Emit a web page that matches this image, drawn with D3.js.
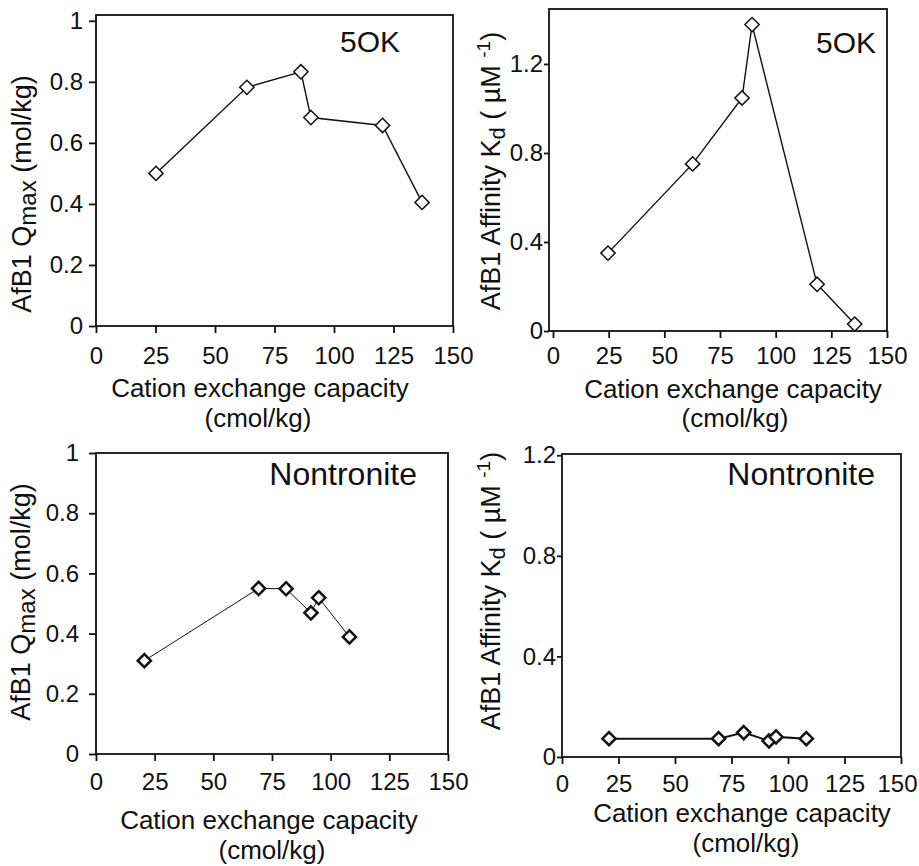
<!DOCTYPE html>
<meta charset="utf-8">
<style>
    body { margin: 0; background: #fff; }
    svg text { font-family: "Liberation Sans", Arial, sans-serif; fill: #111; }
</style>
<svg width="919" height="866"></svg>
<script src="https://d3js.org/d3.v7.min.js"></script>
<script>
    // values
    var cecQmax5OK = [25.2, 63.4, 86.1, 90.3, 120.4, 137.0];
    var qmax5OK = [0.500, 0.782, 0.833, 0.683, 0.657, 0.405];
    var cecKd5OK = [24.7, 62.7, 84.9, 89.4, 118.6, 135.5];
    var kd5OK = [0.350, 0.751, 1.047, 1.377, 0.210, 0.031];
    var cecQmaxNon = [20.6, 69.3, 81.0, 91.6, 94.9, 108.0];
    var qmaxNon = [0.310, 0.550, 0.549, 0.469, 0.519, 0.389];
    var cecKdNon = [20.8, 69.3, 80.4, 91.6, 94.7, 108.1];
    var kdNon = [0.073, 0.073, 0.097, 0.064, 0.080, 0.073];

    var xTicks = [0, 25, 50, 75, 100, 125, 150];
    var qmaxTicks = [0, 0.2, 0.4, 0.6, 0.8, 1];
    var kdTicks = [0, 0.4, 0.8, 1.2];

    var svg = d3.select("svg");

    function qmaxTitle(t) {
        t.append("tspan").text("AfB1 Q");
        t.append("tspan").attr("dy", 5).style("font-size", "24px").text("max");
        t.append("tspan").attr("dy", -5).text(" (mol/kg)");
    }
    function kdTitle(t) {
        t.append("tspan").text("AfB1 Affinity K");
        t.append("tspan").attr("dy", 5).style("font-size", "22px").text("d");
        t.append("tspan").attr("dy", -5).text(" ( \u00b5M ");
        t.append("tspan").attr("dy", -10).style("font-size", "19px").text("-1");
        t.append("tspan").attr("dy", 10).text(")");
    }

    var panels = [
        {xs: cecQmax5OK, ys: qmax5OK, yTicks: qmaxTicks, yMax: 1.019, label: "5OK", title: qmaxTitle,
         left: 96, axisLeft: 96, right: 453, top: 15, bottom: 326, lastDx: 0,
         yTickSize: 7, yPad: 6, xTickSize: 7, xPad: 14, lineW: 1.4, dotW: 1.5, dotSize: 130,
         labelX: 400, labelY: 52, titleX: 260, titleY: 397, unitX: 258, unitY: 427, yTitleX: 31, yTitleY: 194},
        {xs: cecKd5OK, ys: kd5OK, yTicks: kdTicks, yMax: 1.447, label: "5OK", title: kdTitle,
         left: 553, axisLeft: 549, right: 887, top: 9, bottom: 331, lastDx: 0,
         yTickSize: 5, yPad: 1, xTickSize: 7, xPad: 9, lineW: 1.4, dotW: 1.5, dotSize: 130,
         labelX: 876, labelY: 53, titleX: 733, titleY: 398, unitX: 735, unitY: 427, yTitleX: 500, yTitleY: 171},
        {xs: cecQmaxNon, ys: qmaxNon, yTicks: qmaxTicks, yMax: 1, label: "Nontronite", title: qmaxTitle,
         left: 96, axisLeft: 96, right: 448, top: 453, bottom: 754, lastDx: 0,
         yTickSize: 7, yPad: 10, xTickSize: 7, xPad: 12, lineW: 1, dotW: 2.5, dotSize: 110,
         labelX: 417, labelY: 485, titleX: 269, titleY: 829, unitX: 272, unitY: 859, yTitleX: 30, yTitleY: 602},
        {xs: cecKdNon, ys: kdNon, yTicks: kdTicks, yMax: 1.205, label: "Nontronite", title: kdTitle,
         left: 562, axisLeft: 562, right: 901, top: 454, bottom: 757, lastDx: -4,
         yTickSize: 5, yPad: 1, xTickSize: 7, xPad: 11, lineW: 2, dotW: 2.5, dotSize: 110,
         labelX: 875, labelY: 485, titleX: 742, titleY: 822, unitX: 746, unitY: 852, yTitleX: 500, yTitleY: 591}
    ];

    panels.forEach(function (p) {
        var x = d3.scaleLinear().domain([0, 150]).range([p.left, p.right]);
        var y = d3.scaleLinear().domain([0, p.yMax]).range([p.bottom, p.top]);
        var g = svg.append("g");

        // frame
        g.append("rect")
            .attr("x", p.axisLeft).attr("y", p.top)
            .attr("width", p.right - p.axisLeft).attr("height", p.bottom - p.top)
            .attr("fill", "none").attr("stroke", "#111").attr("stroke-width", 1.8);

        var xa = g.append("g")
            .attr("transform", "translate(0," + p.bottom + ")")
            .call(d3.axisBottom(x).tickValues(xTicks).tickSizeOuter(0)
                .tickSize(p.xTickSize).tickPadding(p.xPad));
        var ya = g.append("g")
            .attr("transform", "translate(" + p.axisLeft + ",0)")
            .call(d3.axisLeft(y).tickValues(p.yTicks).tickSizeOuter(0)
                .tickSize(p.yTickSize).tickPadding(p.yPad).tickFormat(function (d) { return String(d); }));
        [xa, ya].forEach(function (a) {
            a.attr("font-size", null).attr("font-family", null);
            a.select(".domain").remove();
            a.selectAll("line").attr("stroke", "#111").attr("stroke-width", 1.8);
            a.selectAll("text").style("font-size", "24px").attr("fill", "#111");
        });
        // keep the last x label inside the page
        xa.selectAll("text").filter(function (d) { return d === 150; }).attr("dx", p.lastDx);

        var pts = p.xs.map(function (v, i) { return [v, p.ys[i]]; });
        g.append("path")
            .datum(pts)
            .attr("fill", "none")
            .attr("stroke", "#111")
            .attr("stroke-width", p.lineW)
            .attr("d", d3.line().x(function (d) { return x(d[0]); }).y(function (d) { return y(d[1]); }));

        g.selectAll(".dot")
            .data(pts)
            .enter()
            .append("path")
            .attr("class", "dot")
            .attr("transform", function (d) { return "translate(" + x(d[0]) + "," + y(d[1]) + ")"; })
            .attr("d", d3.symbol().type(d3.symbolDiamond2).size(p.dotSize))
            .attr("fill", "#fff")
            .attr("stroke", "#111")
            .attr("stroke-width", p.dotW);

        g.append("text")
            .attr("x", p.labelX).attr("y", p.labelY)
            .attr("text-anchor", "end")
            .style("font-size", p.label === "5OK" ? "30px" : "32px")
            .text(p.label);

        g.append("text")
            .attr("x", p.titleX).attr("y", p.titleY)
            .attr("text-anchor", "middle")
            .style("font-size", "26px")
            .text("Cation exchange capacity");
        g.append("text")
            .attr("x", p.unitX).attr("y", p.unitY)
            .attr("text-anchor", "middle")
            .style("font-size", "26px")
            .text("(cmol/kg)");

        var yt = g.append("text")
            .attr("transform", "translate(" + p.yTitleX + "," + p.yTitleY + ") rotate(-90)")
            .attr("text-anchor", "middle")
            .style("font-size", "27px");
        p.title(yt);
    });
</script>
